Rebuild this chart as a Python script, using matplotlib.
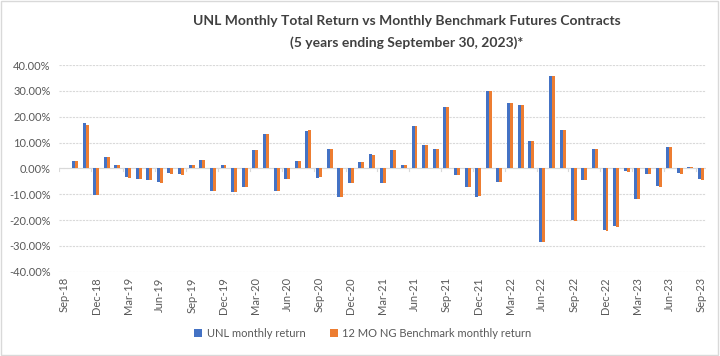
import numpy as np
import matplotlib.pyplot as plt
from matplotlib.ticker import FuncFormatter

plt.rcParams['font.family'] = ['Lato', 'DejaVu Sans']

# months Sep-18 .. Sep-23
months = ['Sep-18', 'Oct-18', 'Nov-18', 'Dec-18', 'Jan-19', 'Feb-19', 'Mar-19', 'Apr-19', 'May-19',
          'Jun-19', 'Jul-19', 'Aug-19', 'Sep-19', 'Oct-19', 'Nov-19', 'Dec-19', 'Jan-20', 'Feb-20',
          'Mar-20', 'Apr-20', 'May-20', 'Jun-20', 'Jul-20', 'Aug-20', 'Sep-20', 'Oct-20', 'Nov-20',
          'Dec-20', 'Jan-21', 'Feb-21', 'Mar-21', 'Apr-21', 'May-21', 'Jun-21', 'Jul-21', 'Aug-21',
          'Sep-21', 'Oct-21', 'Nov-21', 'Dec-21', 'Jan-22', 'Feb-22', 'Mar-22', 'Apr-22', 'May-22',
          'Jun-22', 'Jul-22', 'Aug-22', 'Sep-22', 'Oct-22', 'Nov-22', 'Dec-22', 'Jan-23', 'Feb-23',
          'Mar-23', 'Apr-23', 'May-23', 'Jun-23', 'Jul-23', 'Aug-23', 'Sep-23']

unl_return = [0.3, 2.7, 17.4, -10.3, 4.6, 1.2, -3.5, -4.1, -4.5,
              -5.3, -1.8, -2.1, 1.2, 3.1, -8.8, 1.2, -9.2, -7.2,
              7.0, 13.2, -8.8, -4.1, 2.7, 14.3, -3.7, 7.7, -11.0,
              -5.7, 2.3, 5.4, -5.7, 7.0, 1.2, 16.6, 8.9, 7.7,
              23.6, -2.7, -7.2, -11.0, 29.8, -5.3, 25.5, 24.4, 10.5,
              -28.5, 35.7, 14.7, -20.0, -4.5, 7.7, -24.0, -22.3, -1.0,
              -11.9, -2.2, -6.8, 8.1, -1.8, 0.4, -4.1]

bench_return = [0.3, 2.7, 17.0, -10.3, 4.6, 1.2, -3.7, -4.1, -4.6,
                -5.7, -2.2, -2.6, 1.2, 3.1, -8.8, 1.2, -9.2, -7.2,
                7.0, 13.2, -8.8, -4.1, 2.7, 14.7, -3.3, 7.7, -11.0,
                -5.7, 2.3, 5.0, -5.7, 7.0, 1.2, 16.6, 8.9, 7.7,
                23.6, -2.7, -7.2, -10.7, 29.8, -5.3, 25.5, 24.4, 10.5,
                -28.5, 35.7, 14.7, -20.4, -4.5, 7.4, -24.3, -22.7, -1.4,
                -11.9, -2.2, -7.2, 8.1, -2.2, 0.4, -4.5]

blue = '#4472C4'
orange = '#ED7D31'
grey_text = '#595959'

fig = plt.figure(figsize=(7.2, 3.56), dpi=100)
ax = fig.add_axes([0.082, 0.237, 0.899, 0.58])

x = np.arange(len(months))
w = 0.28
ax.bar(x - w / 2, unl_return, width=w, color=blue, label='UNL monthly return', zorder=3)
ax.bar(x + w / 2, bench_return, width=w, color=orange, label='12 MO NG Benchmark monthly return', zorder=3)

ax.set_ylim(-40, 40)
ax.set_xlim(-0.5, len(months) - 0.5)
ax.set_yticks(np.arange(-40, 41, 10))
ax.yaxis.set_major_formatter(FuncFormatter(lambda v, p: '%.2f%%' % v))
ax.grid(axis='y', color='#D9D9D9', linestyle=(0, (2, 1)), linewidth=0.8, zorder=0)

ax.set_xticks(x[::3])
ax.set_xticklabels(months[::3], rotation=90)
ax.tick_params(axis='x', length=0, pad=4, labelsize=8, labelcolor=grey_text)
ax.tick_params(axis='y', length=0, pad=6, labelsize=8, labelcolor=grey_text)
for s in ax.spines.values():
    s.set_visible(False)
ax.axhline(0, color='#D9D9D9', linewidth=0.8, zorder=2)
# small tick marks on the zero line between every third category
for t in np.arange(-0.5, len(months), 3):
    ax.plot([t, t], [0, -1.0], color='#D9D9D9', linewidth=0.8, zorder=2)

fig.text(0.565, 0.94, 'UNL Monthly Total Return vs Monthly Benchmark Futures Contracts',
         ha='center', va='center', fontsize=10, fontweight='bold', color='#404040')
fig.text(0.565, 0.88, '(5 years ending September 30, 2023)*',
         ha='center', va='center', fontsize=10, fontweight='bold', color='#404040')

fig.legend(loc='center', bbox_to_anchor=(0.504, 0.063), ncol=2, frameon=False, fontsize=8,
           handlelength=0.7, handleheight=0.7, columnspacing=2.2, handletextpad=0.4, labelcolor=grey_text)

# chart border
fig.patches.append(plt.Rectangle((0.002, 0.003), 0.995, 0.994, transform=fig.transFigure,
                                 fill=False, edgecolor='#D9D9D9', linewidth=1))

fig.savefig('out.png', dpi=100)
